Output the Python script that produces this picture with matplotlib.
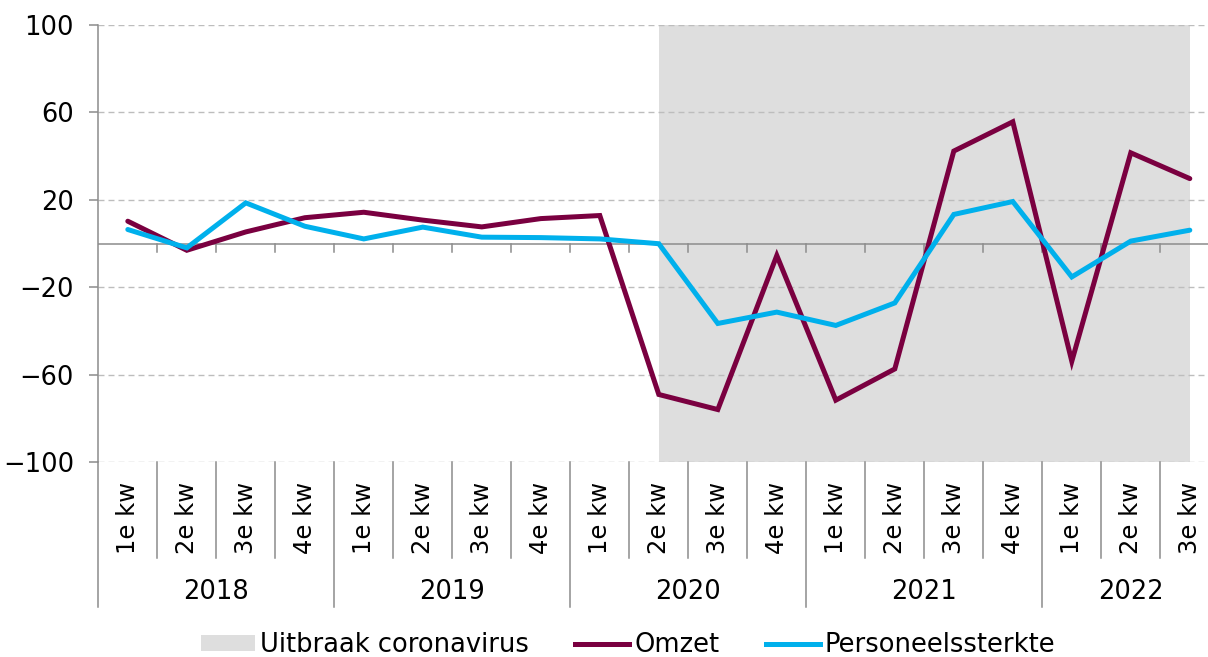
import numpy as np
import matplotlib.pyplot as plt
import matplotlib.transforms as mtransforms
from matplotlib.patches import Patch
from matplotlib.lines import Line2D

plt.rcParams['font.family'] = ['DejaVu Sans']

# quarterly data, 2018 Q1 .. 2022 Q3
years = ['2018', '2019', '2020', '2021', '2022']
quarter_names = ['1e kw', '2e kw', '3e kw', '4e kw']
quarters_per_year = [4, 4, 4, 4, 3]

omzet = [10.2, -3.1, 5.3, 11.8, 14.3, 10.7, 7.6, 11.4, 12.8, -69.1,
         -76.0, -5.5, -71.7, -57.4, 42.3, 55.7, -53.9, 41.5, 29.7]
personeel = [6.4, -2.0, 18.6, 7.9, 2.1, 7.5, 2.9, 2.7, 2.1, -0.1,
             -36.6, -31.4, -37.5, -27.2, 13.3, 19.2, -15.3, 1.1, 6.1]

# corona period runs from 2e kw 2020 to the last quarter
corona_start = 9
corona_end = 18

yticks = [-100, -60, -20, 20, 60, 100]

c_omzet = '#7a0040'
c_pers = '#00b0ec'
c_shade = '#dedede'
c_axis = '#8c8c8c'
c_grid = '#bdbdbd'

labels = []
for y, n in zip(years, quarters_per_year):
    labels += quarter_names[:n]
x = np.arange(len(labels))

W, H = 1208, 657
fig = plt.figure(figsize=(W / 100, H / 100), dpi=100)
ax = fig.add_axes([98.3 / W, 1 - 462 / H, 1121 / W, 437 / H])
ax.set_xlim(-0.5, len(labels) - 0.5)
ax.set_ylim(-100, 100)

for s in ['top', 'right', 'bottom']:
    ax.spines[s].set_visible(False)
ax.spines['left'].set_color(c_axis)
ax.spines['left'].set_linewidth(1.1)

ax.set_xticks([])
ax.set_yticks(yticks)
ax.set_yticklabels([str(t).replace('-', '\u2212') for t in yticks], fontsize=18.5)
ax.tick_params(axis='y', length=6.5, width=1.1, color=c_axis, pad=11)

# shaded corona period
ax.axvspan(corona_start, corona_end, color=c_shade, lw=0, zorder=0)

# dashed gridlines
for t in yticks:
    ax.axhline(t, color=c_grid, lw=1.0, ls=(0, (4.3, 2.9)), zorder=1)

# zero line with small ticks at category boundaries
ax.axhline(0, color=c_axis, lw=1.1, zorder=2)
for b in np.arange(0.5, len(labels) - 0.5):
    ax.plot([b, b], [0, -3.8], color=c_axis, lw=1.1, zorder=2)

ax.plot(x, omzet, color=c_omzet, lw=3.6, solid_joinstyle='miter',
        solid_capstyle='round', zorder=3)
ax.plot(x, personeel, color=c_pers, lw=3.6, solid_joinstyle='miter',
        solid_capstyle='round', zorder=4)

# two-level category axis below the plot
trans = mtransforms.blended_transform_factory(ax.transData, ax.transAxes)
year_starts = np.cumsum([0] + quarters_per_year[:-1])
for k in range(len(labels)):
    b = k - 0.5
    ybot = -0.332 if k in year_starts else -0.22
    ax.add_line(Line2D([b, b], [0, ybot], transform=trans, color=c_axis,
                       lw=1.1, clip_on=False))

for i, lab in enumerate(labels):
    ax.text(i, -0.045, lab, transform=trans, rotation=90, ha='center',
            va='top', fontsize=17.5)

for y, s, n in zip(years, year_starts, quarters_per_year):
    ax.text(s + (n - 1) / 2, -0.297, y, transform=trans, ha='center',
            va='center', fontsize=18.5)

handles = [Patch(facecolor=c_shade, edgecolor='none', label='Uitbraak coronavirus'),
           Line2D([], [], color=c_omzet, lw=3.6, label='Omzet'),
           Line2D([], [], color=c_pers, lw=3.6, label='Personeelssterkte')]
fig.legend(handles=handles, loc='center', bbox_to_anchor=(0.52, 1 - 645 / H),
           ncol=3, frameon=False, fontsize=18.5, handlelength=2.1,
           handleheight=0.55, handletextpad=0.2, columnspacing=1.8, borderpad=0)

fig.savefig('out.png', dpi=100)
